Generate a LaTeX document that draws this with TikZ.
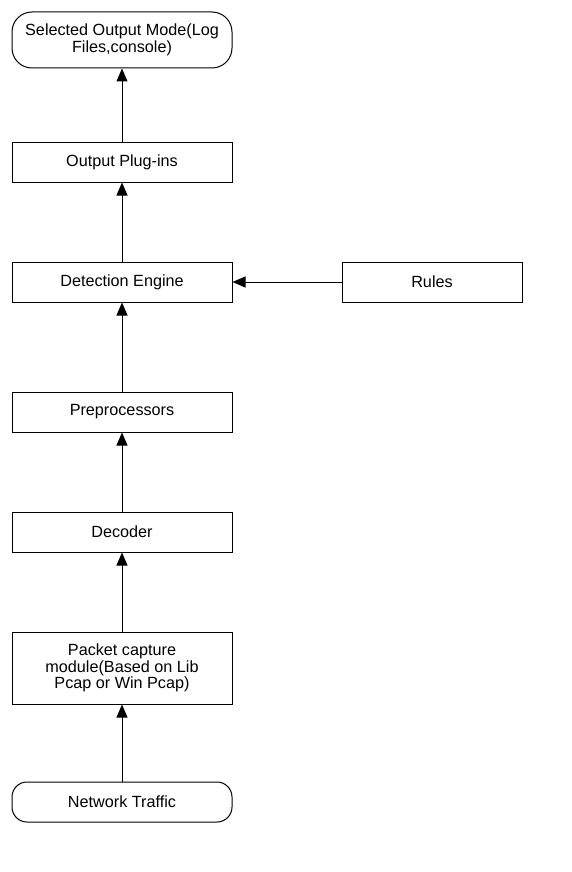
\documentclass[tikz,border=0pt]{standalone}
\usepackage{fontspec}
\setmainfont{Liberation Sans}
\usetikzlibrary{arrows.meta}
\begin{document}
\begin{tikzpicture}[x=1pt,y=-1pt,
  box/.style={draw=black,line width=1pt,fill=white,minimum width=220pt,minimum height=40pt,inner sep=0pt,align=center,
    font=\fontsize{16.2}{16.5}\selectfont},
  term/.style={box,rounded corners=17pt},
  flow/.style={draw=black,line width=1pt,-{Triangle[length=13pt,width=11pt]}}]
\useasboundingbox (0,0) rectangle (572,872);
\node[term,minimum height=56pt,rounded corners=20pt] (out) at (122,40) {Selected Output Mode(Log\\Files,console)};
\node[box] (plug) at (122,162) {Output Plug-ins};
\node[box] (det) at (122,282) {Detection Engine};
\node[box,minimum width=180pt] (rules) at (432,282) {Rules};
\node[box] (pre) at (122,412) {Preprocessors};
\node[box] (dec) at (122,532) {Decoder};
\node[box,minimum height=72pt] (pcap) at (122,668) {Packet capture\\module(Based on Lib\\Pcap or Win Pcap)};
\node[term,rounded corners=15pt] (net) at (122,802) {Network Traffic};
\draw[flow] (net) -- (pcap);
\draw[flow] (pcap) -- (dec);
\draw[flow] (dec) -- (pre);
\draw[flow] (pre) -- (det);
\draw[flow] (rules) -- (det);
\draw[flow] (det) -- (plug);
\draw[flow] (plug) -- (out);
\end{tikzpicture}
\end{document}
